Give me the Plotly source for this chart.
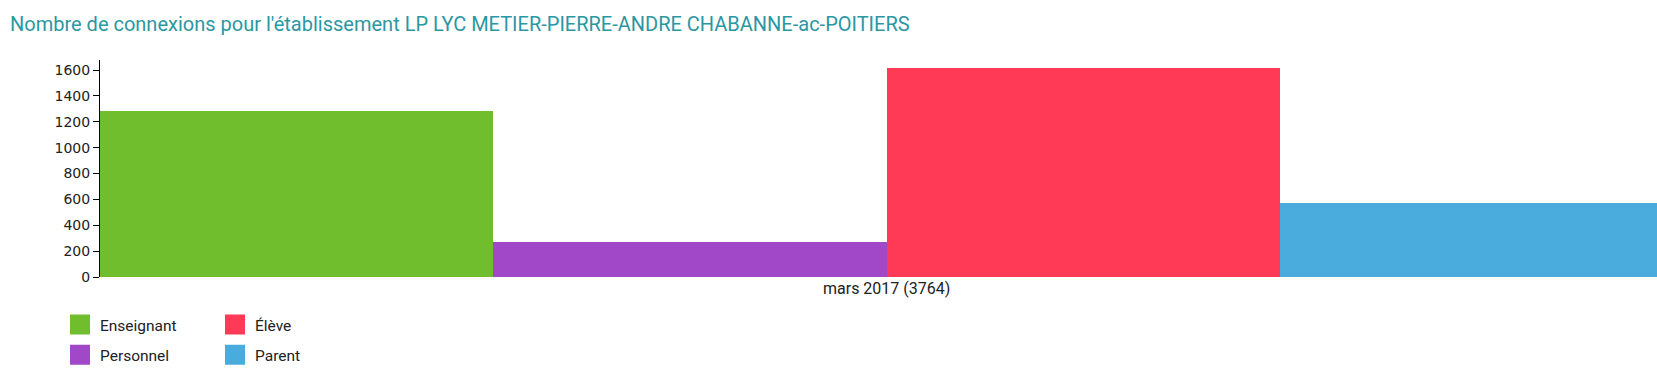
import plotly.graph_objects as go

# Data
categories = ["mars 2017 (3764)"]
series_names = ["Enseignant", "Personnel", "Élève", "Parent"]
series_values = [[1285], [270], [1615], [575]]
series_colors = ["#70be2d", "#a048c8", "#fe3a56", "#49acdd"]
series_legend = ["legend", "legend", "legend2", "legend2"]
y_ticks = [0, 200, 400, 600, 800, 1000, 1200, 1400, 1600]
title_text = "Nombre de connexions pour l'établissement LP LYC METIER-PIERRE-ANDRE CHABANNE-ac-POITIERS"

W, H = 1657, 373
fig = go.Figure()
for name, vals, col in zip(series_names, series_values, series_colors):
    fig.add_trace(go.Bar(
        x=[0], y=vals, name=name, legendgroup=name, showlegend=False,
        marker=dict(color=col, line=dict(width=0)),
    ))
# legend entries (square swatches)
for name, col, lg in zip(series_names, series_colors, series_legend):
    fig.add_trace(go.Scatter(
        x=[None], y=[None], mode="markers", name=name, legend=lg, legendgroup=name,
        marker=dict(symbol="square", size=16, color=col, line=dict(color=col, width=4)),
        showlegend=True, hoverinfo="skip",
    ))

plot_top, plot_bottom = 60, 277
px_per_unit = (277 - 70) / 1600.0
ymax = (plot_bottom - plot_top) / px_per_unit

font_family = "Roboto, 'Open Sans', sans-serif"
legend_font = dict(family=font_family, size=15.5, color="#222222")
fig.update_layout(
    width=W, height=H,
    paper_bgcolor="white", plot_bgcolor="white",
    margin=dict(l=100, r=0, t=plot_top, b=H - plot_bottom, pad=0, autoexpand=False),
    barmode="group", bargap=0, bargroupgap=0,
    font=dict(family=font_family, size=13, color="#222222"),
    title=dict(text=title_text, x=10 / W, xref="container", xanchor="left",
               y=1 - 23.5 / H, yref="container", yanchor="middle",
               font=dict(family=font_family, size=20, color="#2a97a3")),
    xaxis=dict(range=[-0.5, -0.5 + (W - 100.7) / 1572.6],
               tickmode="array", tickvals=[0], ticktext=categories,
               showline=False, showgrid=False, zeroline=False, ticks="",
               tickfont=dict(family=font_family, size=16, color="#222222")),
    yaxis=dict(range=[0, ymax], tickmode="array", tickvals=y_ticks,
               showline=True, linecolor="black", linewidth=1,
               ticks="outside", ticklen=6, tickcolor="black", tickwidth=1,
               showgrid=False, zeroline=False,
               tickfont=dict(family="DejaVu Sans", size=14, color="#222222")),
    legend=dict(xref="container", yref="container", x=60 / W, y=1 - 308 / H,
                xanchor="left", yanchor="top", orientation="v",
                traceorder="grouped", tracegroupgap=7,
                font=legend_font, bgcolor="rgba(0,0,0,0)"),
    legend2=dict(xref="container", yref="container", x=215 / W, y=1 - 308 / H,
                 xanchor="left", yanchor="top", orientation="v",
                 traceorder="grouped", tracegroupgap=7,
                 font=legend_font, bgcolor="rgba(0,0,0,0)"),
    showlegend=True,
)

fig.write_html("out.html", config={"displayModeBar": False},
               post_script="document.body.style.margin='0';")
